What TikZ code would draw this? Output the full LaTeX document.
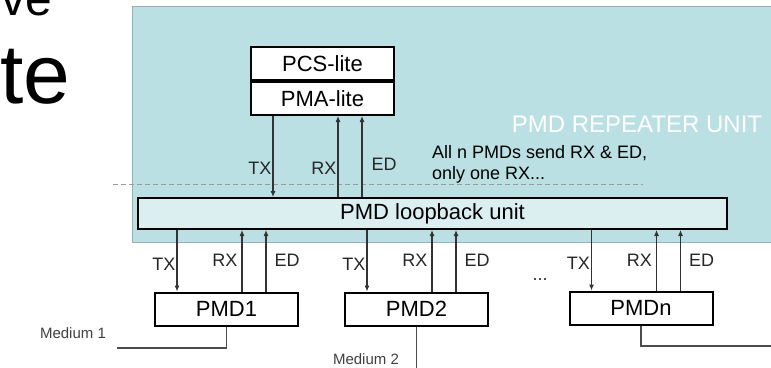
\documentclass[tikz,border=0pt]{standalone}
\usepackage{fontspec}
\setmainfont{Liberation Sans}
\usetikzlibrary{arrows.meta, positioning}
\definecolor{cUnit}{HTML}{BAE0E3}
\definecolor{cUnitEdge}{HTML}{9AAFB2}
\definecolor{cLoop}{HTML}{DBEFF1}
\definecolor{cLine}{HTML}{333333}
\definecolor{cDash}{HTML}{9A9A9A}
\tikzset{
  font=\fontsize{18}{21}\selectfont,
  box/.style={draw=black, line width=2pt, minimum width=143, minimum height=33,
    inner sep=0pt, font=\fontsize{22}{24}\selectfont},
  pmdbox/.style={box, fill=white},
  loopbox/.style={box, fill=cLoop, minimum width=589, minimum height=31},
  flow/.style={-{Latex[length=6pt, width=5pt]}, line width=1.1pt, draw=cLine},
  sig/.style={font=\fontsize{18}{20}\selectfont, text=black!85, inner sep=1pt},
  medline/.style={line width=1.1pt, draw=black!70},
  medlabel/.style={font=\fontsize{15}{17}\selectfont, text=black!75},
}

\begin{document}
\begin{tikzpicture}[x=1pt, y=-1pt]

  \useasboundingbox (0,0) rectangle (771,367);
  \clip (0,0) rectangle (771,367);

  % slide title, cut off at the top
  \node[anchor=base west, inner sep=0pt, font=\fontsize{48}{50}\selectfont] (titleA) at (1,15) {ve};
  \node[anchor=base west, inner sep=0pt, font=\fontsize{84}{88}\selectfont] (titleB) at (0,103) {te};

  % ----------------------------------------------------------------
  % repeater unit
  % ----------------------------------------------------------------
  \node[draw=cUnitEdge, fill=cUnit, line width=1.2pt, minimum width=660, minimum height=236,
        anchor=north west, inner sep=0pt] (unit) at (132,6) {};
  \node[text=white, font=\fontsize{24}{26}\selectfont] (unitlabel) at (637,124) {PMD REPEATER UNIT};

  \node[box, fill=white, anchor=north west] (pcs) at (250,46) {PCS-lite};
  \node[box, fill=white, below=0pt of pcs] (pma) {PMA-lite};

  \node[loopbox] (loop) at (432.5,213.5) {PMD loopback unit};

  \node[align=left, anchor=north west, inner sep=0pt] (note) at (432,145)
    {All n PMDs send RX \& ED,\\only one RX...};

  \coordinate (dashL) at (113,184);
  \coordinate (dashR) at (643,184);
  \draw[cDash, line width=1pt, dash pattern=on 5pt off 3pt] (dashL) -- (dashR);

  % ----------------------------------------------------------------
  % PMDs
  % ----------------------------------------------------------------
  \node[pmdbox] (pmd1) at (226.5,309) {PMD1};
  \node[pmdbox] (pmd2) at (416.5,309) {PMD2};
  \node[pmdbox] (pmdn) at (641,308)   {PMDn};
  \node[sig] (dots) at (540,280) {...};

  \foreach \b in {pma,pmd1,pmd2,pmdn} {
    \coordinate (\b-tx) at ([xshift=23]\b.west);
    \coordinate (\b-rx) at ([xshift=88]\b.west);
    \coordinate (\b-ed) at ([xshift=112]\b.west);
  }

  % ----------------------------------------------------------------
  % Arrows
  % ----------------------------------------------------------------
  \draw[flow] (pma-tx |- pma.south) -- node[sig, left, pos=0.64] {TX} (pma-tx |- loop.north);
  \draw[flow] (pma-rx |- loop.north) -- node[sig, left, pos=0.36] {RX} (pma-rx |- pma.south);
  \draw[flow] (pma-ed |- loop.north) -- node[sig, right, pos=0.4, xshift=8pt] {ED} (pma-ed |- pma.south);

  \foreach \b in {pmd1,pmd2,pmdn} {
    \draw[flow] (\b-tx |- loop.south) -- node[sig, left, pos=0.55] {TX} (\b-tx |- \b.north);
    \draw[flow] (\b-rx |- \b.north) -- node[sig, left, pos=0.5, xshift=-3pt] {RX} (\b-rx |- loop.south);
    \draw[flow] (\b-ed |- \b.north) -- node[sig, right, pos=0.5, xshift=7pt] {ED} (\b-ed |- loop.south);
  }

  % ----------------------------------------------------------------
  % Media
  % ----------------------------------------------------------------
  \coordinate (m1) at (117,348);
  \coordinate (m2) at (416.5,370);
  \coordinate (mn) at (775,346);
  \node[medlabel] (med1) at (73,333) {Medium 1};
  \node[medlabel] (med2) at (366,359) {Medium 2};
  \draw[medline] (pmd1.south) |- (m1);
  \draw[medline] (pmd2.south) -- (m2);
  \draw[medline] (pmdn.south) |- (mn);

\end{tikzpicture}
\end{document}
